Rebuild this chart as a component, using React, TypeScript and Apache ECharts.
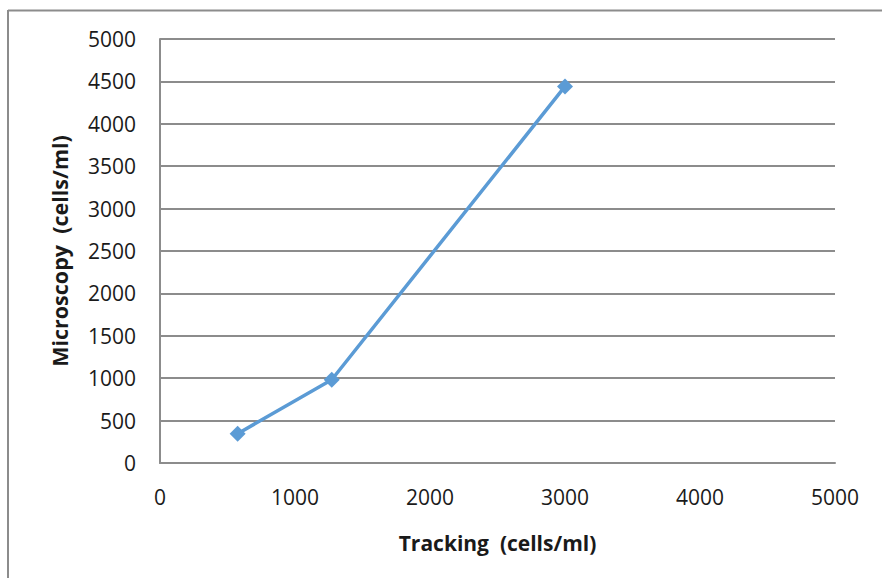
import React, { useEffect, useRef } from "react";
import * as echarts from "echarts";

const trackingValues = [575, 1272, 3000];
const microscopyValues = [346, 982, 4441];
const xTitle = "Tracking  (cells/ml)";
const yTitle = "Microscopy  (cells/ml)";

export default function App() {
  const ref = useRef<HTMLDivElement>(null);
  useEffect(() => {
    const chart = echarts.init(ref.current!, null, { renderer: "svg" });
    const font = "'Open Sans', sans-serif";
    const fmt = (v: number) => String(v);
    chart.setOption({
      animation: false,
      backgroundColor: "#ffffff",
      grid: { left: 160, right: 47, top: 39, bottom: 115 },
      xAxis: {
        type: "value",
        min: 0,
        max: 5000,
        interval: 1000,
        name: xTitle,
        nameLocation: "middle",
        nameGap: 69,
        nameTextStyle: { fontFamily: font, fontSize: 21, fontWeight: "bold", color: "#1a1a1a" },
        axisLine: { show: true, lineStyle: { color: "#8c8c8c", width: 2 } },
        axisTick: { show: false },
        splitLine: { show: false },
        axisLabel: { margin: 23, fontFamily: font, fontSize: 21, color: "#1a1a1a", formatter: fmt },
      },
      yAxis: {
        type: "value",
        min: 0,
        max: 5000,
        interval: 500,
        name: yTitle,
        nameLocation: "middle",
        nameGap: 90,
        nameRotate: 90,
        nameTextStyle: { fontFamily: font, fontSize: 21.5, fontWeight: "bold", color: "#1a1a1a" },
        axisLine: { show: true, lineStyle: { color: "#8c8c8c", width: 2 } },
        axisTick: { show: false },
        splitLine: { show: true, lineStyle: { color: "#8c8c8c", width: 2 } },
        axisLabel: { margin: 24, fontFamily: font, fontSize: 21, color: "#1a1a1a", formatter: fmt },
      },
      graphic: [
        { type: "line", shape: { x1: 8, y1: 10.5, x2: 882, y2: 10.5 }, style: { stroke: "#8c8c8c", lineWidth: 2 } },
        { type: "line", shape: { x1: 8, y1: 10, x2: 8, y2: 578 }, style: { stroke: "#8c8c8c", lineWidth: 2 } },
      ],
      series: [
        {
          type: "line",
          data: trackingValues.map((x, i) => [x, microscopyValues[i]]),
          symbol: "diamond",
          symbolSize: 16,
          lineStyle: { color: "#5B9BD5", width: 3.5 },
          itemStyle: { color: "#5B9BD5" },
        },
      ],
    });
    return () => chart.dispose();
  }, []);
  return (
    <div
      ref={ref}
      style={{ position: "fixed", left: 0, top: 0, width: 882, height: 578 }}
    />
  );
}
